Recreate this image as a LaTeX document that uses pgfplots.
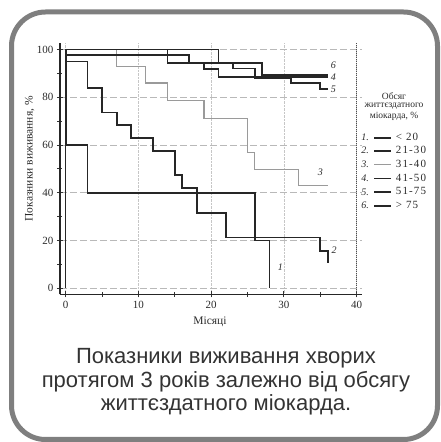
\documentclass[border=0pt]{standalone}
\usepackage{pgfplots}
\pgfplotsset{compat=1.18}
\usepackage{fontspec}
\setmainfont{Liberation Serif}
\newfontfamily\capfont{Liberation Sans}
\newfontfamily\legfont[LetterSpace=10]{Liberation Serif}
\definecolor{frame}{HTML}{7F7F7F}
\definecolor{crv}{HTML}{262626}
\definecolor{crvg}{HTML}{9A9A9A}
\definecolor{captxt}{HTML}{333333}
\definecolor{chtxt}{HTML}{2A2A2A}
\begin{document}
\begin{tikzpicture}[x=1pt,y=1pt]
\path[use as bounding box] (0,0) rectangle (441,442);
\draw[line width=5pt, color=frame, rounded corners=34pt] (11.5,430) rectangle (437.5,2.5);
\begin{axis}[
  at={(59.9pt,147.7pt)}, anchor=south west, scale only axis,
  width=301.9pt, height=250.8pt,
  xmin=-0.8, xmax=40.7, ymin=-2.5, ymax=102.5,
  axis x line*=bottom, axis y line*=left,
  axis line style={line width=1.4pt, color=black!85, -},
  xtick={0,10,20,30,40}, ytick={0,20,40,60,80,100},
  minor xtick={5,15,25,35}, minor ytick={10,30,50,70,90},
  tick align=center, major tick length=6pt, minor tick length=5pt,
  every tick/.style={line width=1pt, black!80},
  ticklabel style={font=\fontsize{11}{12}\selectfont, text=chtxt},
  /pgf/number format/assume math mode=true,
  ymajorgrids, xmajorgrids,
  major y grid style={dash pattern=on 7pt off 3pt, gray!55, line width=0.8pt},
  major x grid style={densely dotted, gray!45, line width=0.7pt},
  xlabel={Місяці}, ylabel={Показники виживання, \%},
  x label style={at={(axis description cs:0.497,-0.11)}, anchor=center, font=\fontsize{11.5}{13}\selectfont, text=chtxt},
  y label style={at={(axis description cs:-0.1,0.54)}, anchor=center, font=\fontsize{11.5}{13}\selectfont, text=chtxt},
  clip=false,
  legend image code/.code={\draw[#1] (0pt,0pt) -- (17pt,0pt);},
  legend style={at={(rel axis cs:1.037,0.643)}, anchor=north west, draw=none, fill=none,
    font=\legfont\fontsize{11}{12}\selectfont, text=chtxt, inner sep=0pt, row sep=4.6pt, column sep=4pt,
    nodes={inner sep=0pt, text height=7pt, text depth=2pt, anchor=west}},
  legend cell align=left,
]
% legend images
\addlegendimage{crv, line width=1.8pt}
\addlegendentry{< 20}
\addlegendimage{crv, line width=1.8pt}
\addlegendentry{21-30}
\addlegendimage{crvg, line width=1.0pt}
\addlegendentry{31-40}
\addlegendimage{crv, line width=1.8pt}
\addlegendentry{41-50}
\addlegendimage{crv, line width=1.8pt}
\addlegendentry{51-75}
\addlegendimage{crv, line width=1.8pt}
\addlegendentry{> 75}
% reference lines
\addplot[black!70, densely dotted, line width=1pt, forget plot] coordinates {(40,-2.5) (40,102.5)};
\addplot[crv, line width=1.3pt, forget plot] coordinates {(0,0) (0,100)};
% curve 3 (31-40)
\addplot[crvg, line width=1.2pt, const plot, forget plot] coordinates {
 (7,100) (7,93) (11,86) (14,78.5) (19,71.2) (25,57) (26,49.8) (32,43) (36,43)};
% curve 1 (<20)
\addplot[crv, line width=1.8pt, const plot, forget plot] coordinates {
 (0,100) (0,60) (3,40) (26,20) (28,0)};
% curve 2 (21-30)
\addplot[crv, line width=1.8pt, const plot, forget plot] coordinates {
 (0,100) (0,95) (3,84) (5,73.6) (7,68.5) (9,63) (12,57.6) (15,47.5) (16,42) (18,31.7) (22,21.3) (35,15.7) (36,10.5)};
% curve 4 (41-50)
\addplot[crv, line width=1.8pt, const plot, forget plot] coordinates {
 (0,100) (14,94.4) (19,91.7) (21,88.5) (36,88.5)};
% curve 5 (51-75)
\addplot[crv, line width=1.8pt, const plot, forget plot] coordinates {
 (0,97.6) (17,94.4) (23,92) (26,88.2) (31,86) (35,83.3) (36,83.3)};
% curve 6 (>75)
\addplot[crv, line width=1.8pt, const plot, forget plot] coordinates {
 (0,100) (21,94.4) (27,89.2) (36,89.2)};
% curve labels
\node[font=\itshape\fontsize{10}{11}\selectfont, text=chtxt] at (axis cs:36.8,93.5) {6};
\node[font=\itshape\fontsize{10}{11}\selectfont, text=chtxt] at (axis cs:36.8,88.5) {4};
\node[font=\itshape\fontsize{10}{11}\selectfont, text=chtxt] at (axis cs:36.8,83.3) {5};
\node[font=\itshape\fontsize{10}{11}\selectfont, text=chtxt] at (axis cs:35.0,48.5) {3};
\node[font=\itshape\fontsize{10}{11}\selectfont, text=chtxt] at (axis cs:36.9,15.9) {2};
\node[font=\itshape\fontsize{10}{11}\selectfont, text=chtxt] at (axis cs:29.5,8.9) {1};
\end{axis}
% legend title and numbers
\node[inner sep=0pt, font=\fontsize{9.5}{10}\selectfont, text=chtxt] at (394,345.7) {Обсяг};
\node[inner sep=0pt, font=\fontsize{9.5}{10}\selectfont, text=chtxt] at (394,335.7) {життєздатного};
\node[inner sep=0pt, font=\fontsize{9.5}{10}\selectfont, text=chtxt] at (394,325.7) {міокарда, \%};
\node[font=\itshape\fontsize{10}{11}\selectfont, text=chtxt] at (365,304.7) {1.};
\node[font=\itshape\fontsize{10}{11}\selectfont, text=chtxt] at (365,291.7) {2.};
\node[font=\itshape\fontsize{10}{11}\selectfont, text=chtxt] at (365,278) {3.};
\node[font=\itshape\fontsize{10}{11}\selectfont, text=chtxt] at (365,264) {4.};
\node[font=\itshape\fontsize{10}{11}\selectfont, text=chtxt] at (365,250) {5.};
\node[font=\itshape\fontsize{10}{11}\selectfont, text=chtxt] at (365,236.7) {6.};
% caption
\node[font=\capfont\fontsize{22}{26}\selectfont, text=captxt, anchor=base] at (226,78.5) {Показники виживання хворих};
\node[font=\capfont\fontsize{22}{26}\selectfont, text=captxt, anchor=base] at (226,54.5) {протягом 3 років залежно від обсягу};
\node[font=\capfont\fontsize{22}{26}\selectfont, text=captxt, anchor=base] at (226,31) {життєздатного міокарда.};
\end{tikzpicture}
\end{document}
